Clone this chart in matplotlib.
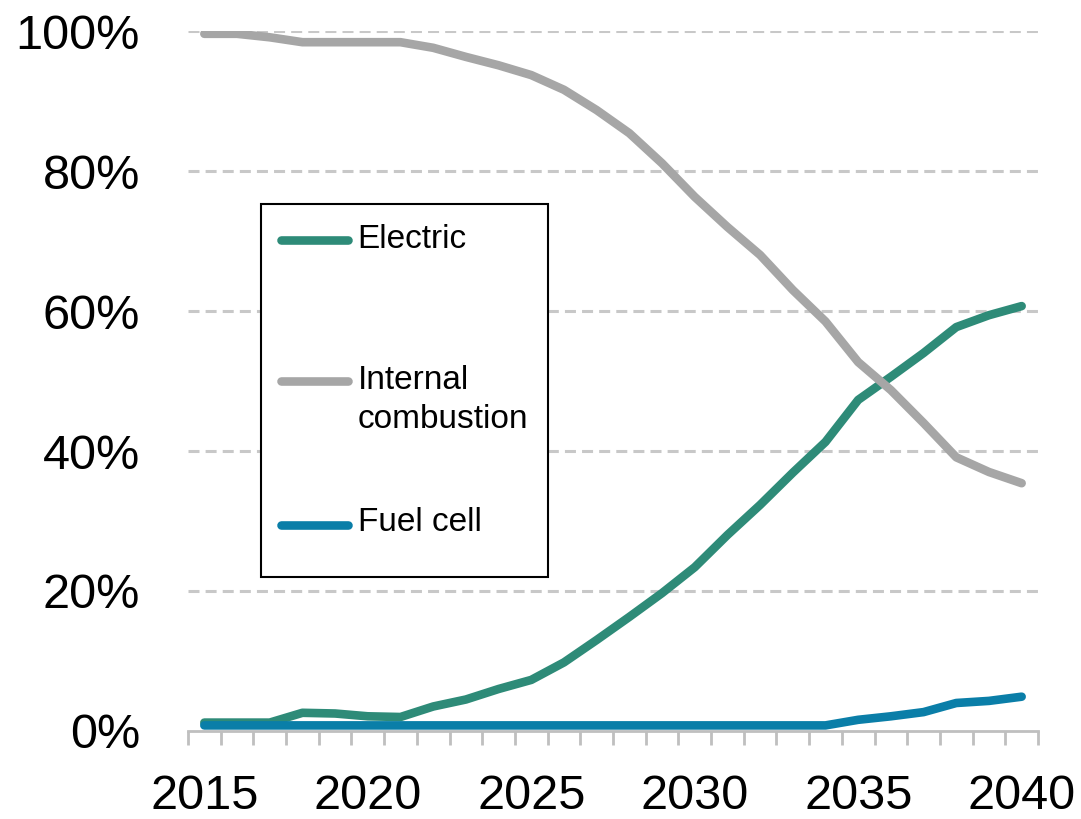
import numpy as np
import matplotlib.pyplot as plt

plt.rcParams["font.family"] = ["Liberation Sans", "DejaVu Sans"]

years = list(range(2015, 2041))
electric = [1.2, 1.2, 1.2, 2.6, 2.5, 2.1, 2.0, 3.5, 4.5, 6.0, 7.3, 9.8, 13.0,
            16.3, 19.7, 23.4, 28.0, 32.3, 36.9, 41.3, 47.3, 50.6, 54.0, 57.7,
            59.4, 60.7]
internal = [99.6, 99.6, 99.1, 98.4, 98.4, 98.4, 98.4, 97.6, 96.3, 95.1, 93.7,
            91.6, 88.7, 85.4, 81.1, 76.3, 72.0, 68.0, 63.0, 58.5, 52.7, 48.7,
            44.0, 39.1, 37.0, 35.4]
fuel_cell = [0.8, 0.8, 0.8, 0.8, 0.8, 0.8, 0.8, 0.8, 0.8, 0.8, 0.8, 0.8, 0.8,
             0.8, 0.8, 0.8, 0.8, 0.8, 0.8, 0.8, 1.6, 2.1, 2.7, 4.0, 4.3, 4.9]
y_ticks = [0, 20, 40, 60, 80, 100]
x_ticks = [2015, 2020, 2025, 2030, 2035, 2040]

fig = plt.figure(figsize=(10.81, 8.19), dpi=100)
ax = fig.add_axes([188 / 1081, 88 / 819, 850 / 1081, 700 / 819])

style = dict(lw=6.2, solid_capstyle="round", solid_joinstyle="round")
ax.plot(years, electric, color="#2e8b78", label="Electric\n ", **style)
ax.plot(years, internal, color="#a6a6a6", label="Internal\ncombustion", **style)
ax.plot(years, fuel_cell, color="#0a7ea8", label="Fuel cell\n ", **style)

ax.set_xlim(2014.5, 2040.5)
ax.set_ylim(0, 100)

ax.set_yticks(y_ticks)
ax.set_yticklabels([f"{v}%" for v in y_ticks])
ax.yaxis.grid(True, color="#c8c8c8", lw=2.2, linestyle=(0, (3.6, 2)))
ax.get_ygridlines()[0].set_visible(False)
ax.tick_params(axis="y", length=0, pad=34.5, labelsize=35)

ax.set_xticks(x_ticks)
ax.set_xticks(np.arange(2014.5, 2041, 1), minor=True)
ax.tick_params(axis="x", which="major", length=0, pad=31, labelsize=35)
ax.tick_params(axis="x", which="minor", length=10, width=2, color="#bfbfbf")

for s in ["left", "top", "right"]:
    ax.spines[s].set_visible(False)
ax.spines["bottom"].set_color("#bfbfbf")
ax.spines["bottom"].set_linewidth(2)
ax.set_axisbelow(True)

leg = ax.legend(loc="upper left", bbox_to_anchor=(73 / 850, 527 / 700),
                borderaxespad=0, fancybox=False, framealpha=1,
                edgecolor="black", borderpad=0.6, labelspacing=2.15,
                handlelength=2.0, handletextpad=0.3, fontsize=24)
leg.get_frame().set_linewidth(1.5)
texts = leg.get_texts()
for t in texts[:2]:
    t.set_linespacing(1.32)
texts[2].set_linespacing(0.5)
# put the handles on the first text line, like the original
for ln, dy in zip(leg.get_lines(), [13.7, 13.7, 5.4]):
    ln.set_ydata(np.asarray(ln.get_ydata()) + dy)

fig.savefig("out.png", dpi=100)
